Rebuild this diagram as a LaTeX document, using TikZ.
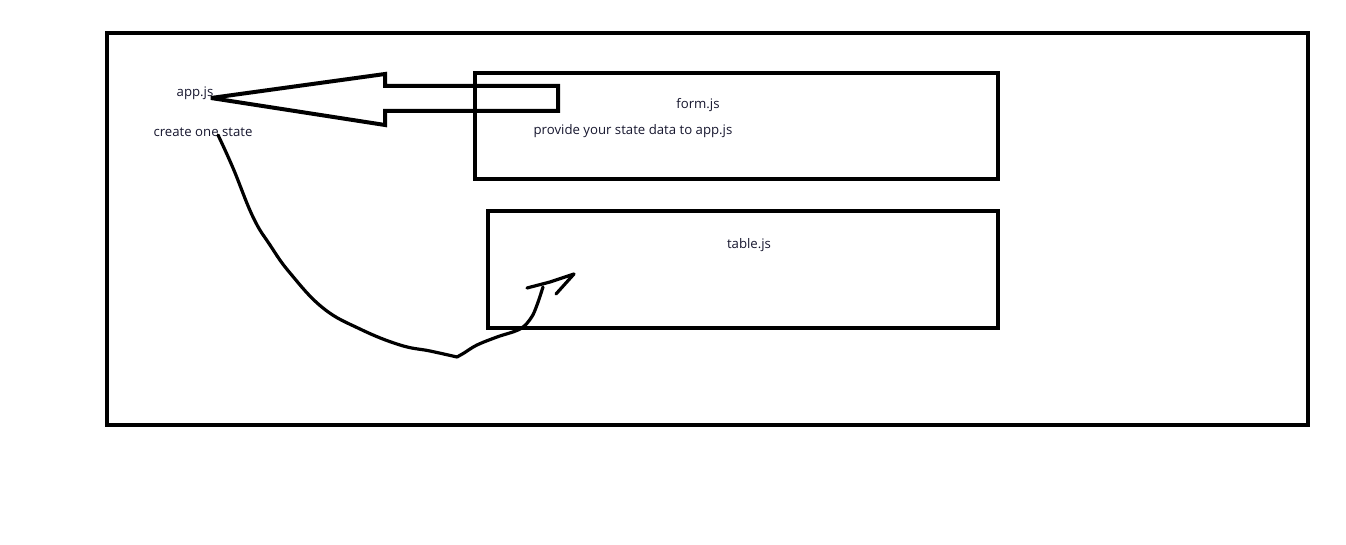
\documentclass[tikz,border=0pt]{standalone}
\usepackage{fontspec}
\setmainfont{Open Sans}
\usetikzlibrary{positioning}
\definecolor{cTxt}{HTML}{16162E}
\tikzset{
  frm/.style ={draw=black,line width=3pt,inner sep=0pt},
  box/.style ={frm},
  lbl/.style ={font=\fontsize{9.9}{12}\selectfont,text=cTxt,inner sep=0pt},
  pen/.style ={draw=black,line width=2.4pt,line cap=round,line join=round},
  fat/.style ={draw=black,line width=3pt,line join=miter,miter limit=3},
}
\begin{document}
\begin{tikzpicture}[x=0.75pt,y=-0.75pt]
\useasboundingbox (0,0) rectangle (1346,545);

% ===== outer frame ========================================================
\node[frm,minimum width=900.75pt,minimum height=294pt] (page) at (707.5,229) {};

% ===== app.js (no box) ====================================================
\node[lbl] (app)   at (195,93)  {app.js};
\node[lbl] (state) at (203,132) {create one state};

% ===== child components ===================================================
\node[box,minimum width=392.25pt,minimum height=79.5pt]  (form)  at (736.5,126) {};
\node[lbl] (formname) at (698,105) {form.js};
\node[lbl] (formtxt)  at (633,131) {provide your state data to app.js};

\node[box,minimum width=382.5pt,minimum height=87.75pt] (table) at (743,269.5) {};
\node[lbl] (tablename) at (749,245) {table.js};

% ===== hollow arrow: form.js -> app.js =====================================
\coordinate (tip) at (211,98);
\draw[fat] (tip) -- (385,74) -- (385,86) -- (558,86) -- (558,111)
  -- (385,111) -- (385,125) -- cycle;

% ===== hand drawn link: state -> table.js ==================================
\coordinate (pin) at (218,135);
\coordinate (hook) at (543,287);
\draw[pen] plot[smooth,tension=0.7] coordinates {(pin) (233,168)
  (253,217) (270,245) (290,273) (323,308) (360,329)
  (400,345) (430,351) (457,357)};
\draw[pen] plot[smooth,tension=0.6] coordinates {(457,357) (464,353)
  (477,345) (497,337) (520,329) (531,318) (537,305) (hook)};
\draw[pen] (527,288) -- (550,282) -- (574,274) -- (556,294);
\end{tikzpicture}
\end{document}
